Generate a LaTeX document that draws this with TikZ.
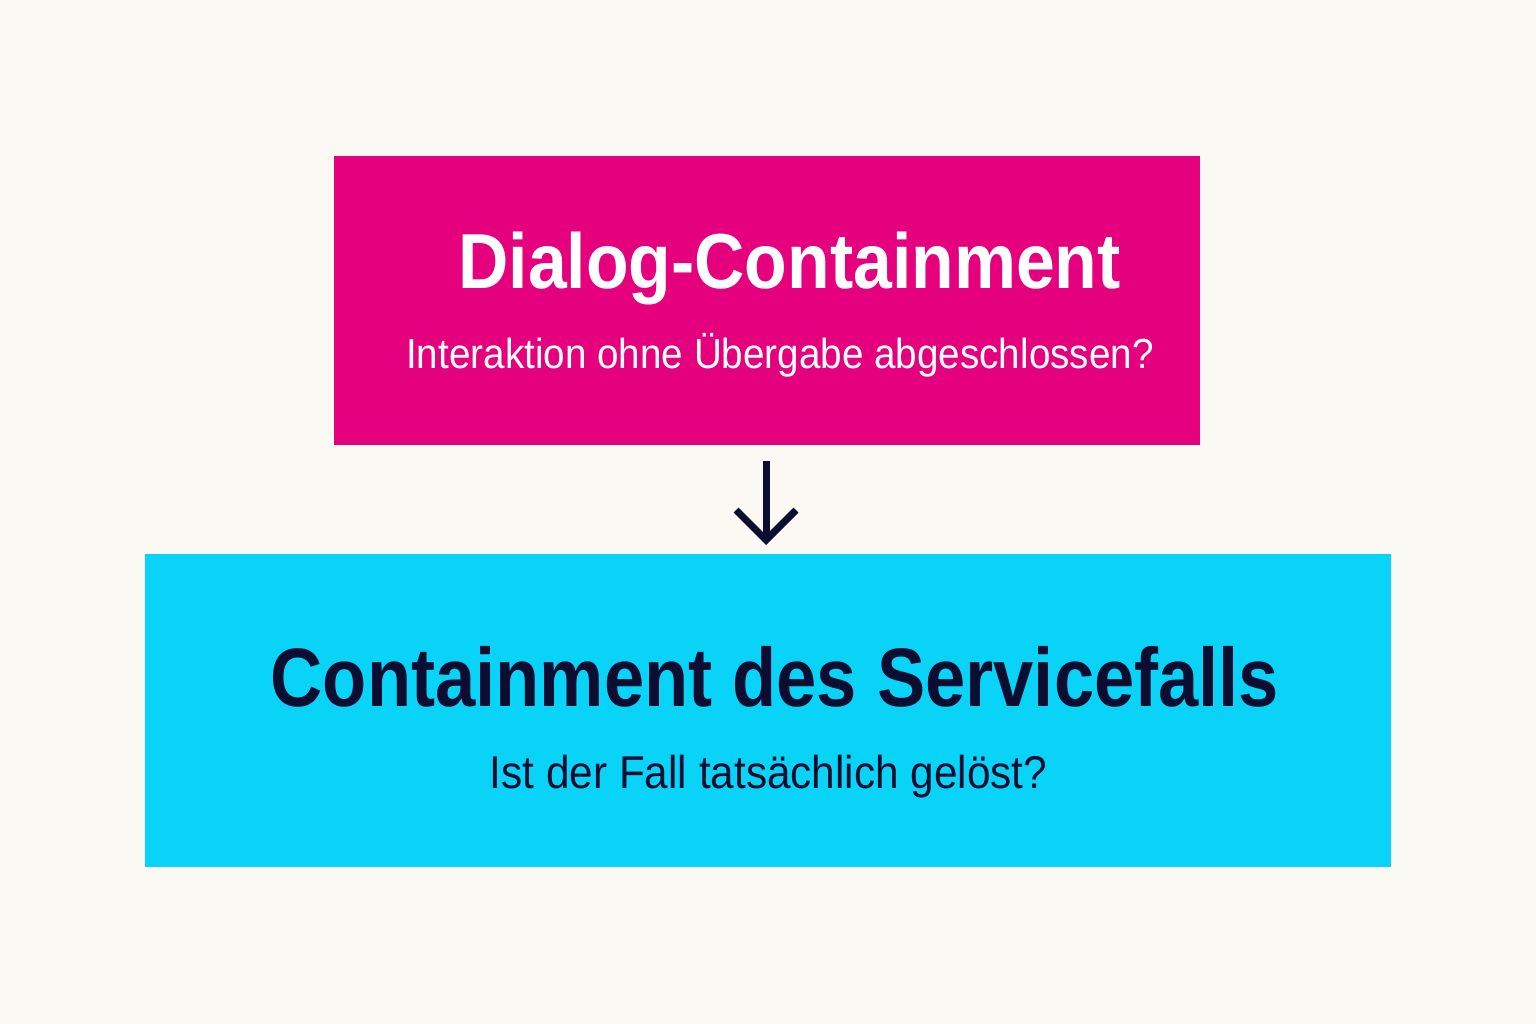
\documentclass[tikz,border=0pt]{standalone}
\usepackage{fontspec}
\setmainfont{Liberation Sans}
\newfontfamily\titleAfont[FakeStretch=0.894]{Liberation Sans}
\newfontfamily\titleBfont[FakeStretch=0.871]{Liberation Sans}
\newfontfamily\subfont[FakeStretch=0.92]{Liberation Sans}
\usetikzlibrary{arrows.meta}
\definecolor{bgc}{HTML}{FBF9F3}
\definecolor{magc}{HTML}{E5007E}
\definecolor{cyanc}{HTML}{09D4F8}
\definecolor{navyc}{HTML}{0B0E30}
\tikzset{
  box/.style={draw=none, inner sep=0pt, outer sep=0pt},
  titleA/.style={anchor=base, inner sep=0pt, font=\titleAfont\bfseries\fontsize{78}{90}\selectfont},
  titleB/.style={anchor=base, inner sep=0pt, font=\titleBfont\bfseries\fontsize{83}{90}\selectfont},
  subA/.style={anchor=base, inner sep=0pt, font=\subfont\fontsize{42}{48}\selectfont},
  subB/.style={anchor=base, inner sep=0pt, font=\subfont\fontsize{46}{52}\selectfont},
  flow/.style={draw=navyc, line width=7pt, -{Straight Barb[length=30pt, width=60pt, line join=miter]}}
}
\begin{document}
\begin{tikzpicture}[x=1pt, y=-1pt]
\fill[bgc] (0,0) rectangle (1536,1024);
\useasboundingbox (0,0) rectangle (1536,1024);
\node[box, fill=magc, minimum width=866pt, minimum height=289pt] (top) at (767,300.5) {};
\node[box, fill=cyanc, minimum width=1246pt, minimum height=313pt] (bot) at (768,710.5) {};
\node[titleA, text=white] (t1) at (789.5,288) {Dialog-Containment};
\node[subA, text=white] (s1) at (780,368) {Interaktion ohne Übergabe abgeschlossen?};
\node[titleB, text=navyc] (t2) at (775,706) {Containment des Servicefalls};
\node[subB, text=navyc] (s2) at (768.5,788) {Ist der Fall tatsächlich gelöst?};
\draw[flow, shorten <=16pt, shorten >=9pt] (top.south -| 766,0) -- (bot.north -| 766,0);
\end{tikzpicture}
\end{document}
